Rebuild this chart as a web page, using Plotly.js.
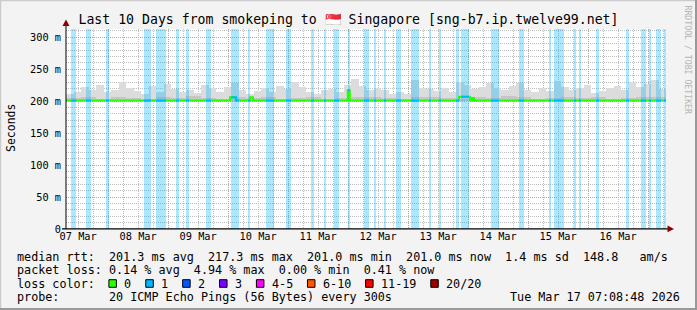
<!DOCTYPE html>
<html><head><meta charset="utf-8">
<script src="https://cdn.plot.ly/plotly-3.0.1.min.js"></script>
<style>html,body{margin:0;padding:0;background:#f3f3f3;} #chart{width:697px;height:310px;}</style>
</head><body><div id="chart"></div>
<script>
// ---------- data ----------
const rangeStart = '2026-03-07 07:08:48';
const rangeEnd = '2026-03-17 07:08:48';
const titleText = 'Last 10 Days from smokeping to 🇸🇬 Singapore [sng-b7.ip.twelve99.net]';

const smokeMin = 201.0;
const smokeStepHours = 3;
const smokeTop = [212,215,222,218,225,214,218,230,220,216,
  212,224,215,227,219,214,218,213,226,220,
  214,222,228,218,212,216,221,215,224,219,
  230,222,215,211,217,219,214,226,234,224,
  218,220,217,212,214,211,233,221,219,216,
  220,215,230,226,219,223,228,220,217,224,
  229,218,214,220,216,232,222,217,220,226,
  213,216,221,224,218,230,222,227,233,219];
const smokeMidStepHours = 6;
const smokeMid = [205,206,204,207,205,204,206,205,208,205,204,206,205,207,204,205,206,204,205,207,
  206,205,204,206,207,205,204,206,205,208,206,204,205,207,205,206,204,205,206,207];

const medianTimes = ['2026-03-07 07:08:48','2026-03-10 00:45','2026-03-10 03:09','2026-03-10 08:45',
  '2026-03-10 09:57','2026-03-11 23:51','2026-03-12 00:39','2026-03-13 20:21','2026-03-14 00:45',
  '2026-03-14 01:33','2026-03-14 02:21','2026-03-17 07:08:48'];
const medianValues = [201.0,206.0,201.0,206.0,201.0,217.3,201.0,207.0,201.0,205.0,201.0,201.0];

const lossStart = ['2026-03-07 09:09','2026-03-07 15:09','2026-03-07 23:09','2026-03-08 14:21','2026-03-08 19:09',
  '2026-03-09 03:09','2026-03-09 07:09','2026-03-09 15:09','2026-03-10 01:09','2026-03-10 07:57',
  '2026-03-10 15:09','2026-03-10 23:09','2026-03-11 09:09','2026-03-11 14:21','2026-03-11 18:21',
  '2026-03-11 23:51',
  '2026-03-12 06:21','2026-03-12 10:21','2026-03-12 14:21','2026-03-12 19:09','2026-03-13 01:09',
  '2026-03-13 08:21','2026-03-13 12:21','2026-03-13 19:09','2026-03-13 21:09','2026-03-14 09:09',
  '2026-03-14 20:21','2026-03-15 08:21','2026-03-15 10:21','2026-03-15 18:21','2026-03-15 20:21',
  '2026-03-16 03:09','2026-03-16 15:09','2026-03-16 21:09','2026-03-17 00:21','2026-03-17 03:09',
  '2026-03-17 06:21'];
const lossHours = [2,2,1.2,2.8,4, 1.2,1.2,2,3.2,0.8, 3.2,2,1.2,0.8,2, 0.8, 2,0.8,0.8,2,3.2,
  0.8,0.8,1.2,3.2,3.2, 2,0.8,4,0.8,0.8, 1.2,1.2,2,0.8,2, 0.8];
const lossLevel = lossHours.map(() => 1); // all loss periods: 1 of 20 pings lost

const lossLabels = ['0','1','2','3','4-5','6-10','11-19','20/20'];
const lossColors = ['#26ff00','#00b8ff','#0059ff','#7e00ff','#ff00ff','#ff5500','#ff0000','#a10000'];

const yTickVals = [0,50,100,150,200,250,300];
const yTickText = ['0','50 m','100 m','150 m','200 m','250 m','300 m'];

const statLines = [
  'median rtt:  201.3 ms avg  217.3 ms max  201.0 ms min  201.0 ms now  1.4 ms sd  148.8   am/s',
  'packet loss: 0.14 % avg  4.94 % max  0.00 % min  0.41 % now',
  'loss color:',
  'probe:       20 ICMP Echo Pings (56 Bytes) every 300s'
];
const dateText = 'Tue Mar 17 07:08:48 2026';
const watermark = 'RRDTOOL / TOBI OETIKER';

// ---------- helpers ----------
const MS_H = 3600000;
function toMs(s){
  const parts = s.split(' ');
  const d = parts[0].split('-').map(Number);
  const t = (parts[1] || '00:00:00').split(':').map(Number);
  return Date.UTC(d[0], d[1]-1, d[2], t[0], t[1], t[2] || 0);
}
const T0 = toMs(rangeStart), T1 = toMs(rangeEnd);
const medMs = medianTimes.map(toMs);
function medianAt(ms){
  let v = medianValues[0];
  for (let i = 0; i < medMs.length; i++) { if (medMs[i] <= ms) v = medianValues[i]; }
  return v;
}
// pixel helpers for decorations (plot area: x 66..666, y 29..229)
const PL = 66, PW = 600, PB = 229, PH = 200;
const px = x => (x - PL) / PW;
const py = y => (PB - y) / PH;
const nb = s => s.replace(/ /g, '\u00a0');
const MONO = 'DejaVu Sans Mono';

// ---------- traces ----------
const traces = [];
traces.push({
  type:'bar', x: smokeTop.map((v,i) => T0 + (i+0.5)*smokeStepHours*MS_H),
  y: smokeTop.map(v => v - smokeMin), base: smokeTop.map(() => smokeMin),
  width: smokeStepHours*MS_H, marker:{color:'#dcdcdc', line:{width:0}}, hoverinfo:'skip'
});
traces.push({
  type:'bar', x: smokeMid.map((v,i) => T0 + (i+0.5)*smokeMidStepHours*MS_H),
  y: smokeMid.map(v => v - smokeMin), base: smokeMid.map(() => smokeMin),
  width: smokeMidStepHours*MS_H, marker:{color:'#c6c6c6', line:{width:0}}, hoverinfo:'skip'
});
// loss background bands
const lossMs = lossStart.map(toMs);
traces.push({
  type:'bar', x: lossMs.map((s,i) => s + lossHours[i]*MS_H/2),
  y: lossMs.map(() => 313), base: lossMs.map(() => 0),
  width: lossHours.map(h => h*MS_H),
  marker:{color: lossLevel.map(l => lossColors[l]), opacity: 0.33, line:{width:0}}, hoverinfo:'skip'
});
// median line (loss 0 colour)
traces.push({
  type:'scatter', mode:'lines', x: medMs, y: medianValues,
  line:{shape:'hv', color: lossColors[0], width:2}, hoverinfo:'skip'
});
// median line segments coloured by loss
const segX = [], segY = [];
lossMs.forEach((s,i) => {
  const e = s + lossHours[i]*MS_H;
  segX.push(s); segY.push(medianAt(s));
  medMs.forEach(m => { if (m > s && m < e) { segX.push(m); segY.push(medianAt(m)); } });
  segX.push(e); segY.push(medianAt(e - 1));
  segX.push(null); segY.push(null);
});
traces.push({
  type:'scatter', mode:'lines', x: segX, y: segY, connectgaps:false,
  line:{shape:'hv', color: lossColors[1], width:2}, hoverinfo:'skip'
});

// ---------- decorations ----------
const rowY = [256.5, 270, 283.5, 297];
const annotations = [];
const shapes = [];
statLines.forEach((t,i) => annotations.push({
  text: nb(t), x: px(15.8), y: py(rowY[i]), xref:'paper', yref:'paper', xanchor:'left', yanchor:'middle',
  showarrow:false, borderpad:0, font:{family:MONO, size:11.76, color:'#000'}
}));
annotations.push({
  text: nb(dateText), x: px(681), y: py(rowY[3]), xref:'paper', yref:'paper', xanchor:'right', yanchor:'middle',
  showarrow:false, borderpad:0, font:{family:MONO, size:11.76, color:'#000'}
});
// loss colour legend
let bx = 108.9;
lossLabels.forEach((lab,i) => {
  shapes.push({type:'rect', xref:'paper', yref:'paper', x0:px(bx), x1:px(bx+7.5), y0:py(rowY[2]+3.8), y1:py(rowY[2]-3.8),
    fillcolor: lossColors[i], line:{color:'#000', width:1}});
  const lx = bx + 14.8;
  annotations.push({text: lab, x: px(lx-0.6), y: py(rowY[2]), xref:'paper', yref:'paper', xanchor:'left', yanchor:'middle',
    showarrow:false, borderpad:0, font:{family:MONO, size:11.76, color:'#000'}});
  bx = lx + lab.length*7.08 + 15;
});
// y axis unit
annotations.push({text:'Seconds', x: px(11), y: py(128), xref:'paper', yref:'paper', xanchor:'center', yanchor:'middle',
  textangle:-90, showarrow:false, borderpad:0, font:{family:MONO, size:11.5, color:'#000'}});
// watermark
annotations.push({text: nb(watermark), x: px(687.5), y: py(60), xref:'paper', yref:'paper', xanchor:'center', yanchor:'middle',
  textangle:90, showarrow:false, borderpad:0, font:{family:MONO, size:8.2, color:'#b4b4b4'}});

// axis extensions and arrows
shapes.push({type:'line', xref:'paper', yref:'paper', x0:px(66), x1:px(66), y0:py(229), y1:py(23), line:{color:'#000', width:1}});
shapes.push({type:'line', xref:'paper', yref:'paper', x0:px(62), x1:px(670), y0:py(228.8), y1:py(228.8), line:{color:'#000', width:1.3}});
shapes.push({type:'path', xref:'paper', yref:'paper', fillcolor:'#8b0000', line:{width:0},
  path:`M ${px(62.5)} ${py(26)} L ${px(69.5)} ${py(26)} L ${px(66)} ${py(19.5)} Z`});
shapes.push({type:'path', xref:'paper', yref:'paper', fillcolor:'#8b0000', line:{width:0},
  path:`M ${px(667.5)} ${py(225.5)} L ${px(667.5)} ${py(232.3)} L ${px(674)} ${py(228.9)} Z`});
// outer frame
shapes.push({type:'line', xref:'paper', yref:'paper', x0:px(0.5), x1:px(0.5), y0:py(0), y1:py(310), line:{color:'#cbcbcb', width:1.5}});
shapes.push({type:'line', xref:'paper', yref:'paper', x0:px(0), x1:px(697), y0:py(0.5), y1:py(0.5), line:{color:'#cbcbcb', width:1.5}});
shapes.push({type:'line', xref:'paper', yref:'paper', x0:px(696), x1:px(696), y0:py(0), y1:py(310), line:{color:'#999999', width:2}});
shapes.push({type:'line', xref:'paper', yref:'paper', x0:px(0), x1:px(697), y0:py(309), y1:py(309), line:{color:'#999999', width:2}});

const layout = {
  width:697, height:310,
  margin:{l:66, r:31, t:29, b:81, pad:0},
  paper_bgcolor:'#f3f3f3', plot_bgcolor:'#ffffff',
  barmode:'overlay', bargap:0, showlegend:false,
  font:{family:MONO, size:10.3, color:'#000'},
  title:{text: titleText, xref:'container', x:0.5, xanchor:'center', yref:'container', y:1-19/310, yanchor:'middle',
    font:{family:MONO, size:13.2, color:'#000'}},
  xaxis:{type:'date', range:[rangeStart, rangeEnd], tick0:'2026-03-07', dtick:86400000, tickformat:'%d %b',
    ticklabelmode:'period', ticks:'', showgrid:true, gridcolor:'#eb8f8f', griddash:'1px,1px', gridwidth:1,
    minor:{tick0:'2026-03-07', dtick:6*MS_H, showgrid:true, gridcolor:'#bdbdbd', griddash:'1px,1px', gridwidth:1, ticks:''},
    showline:false, zeroline:false, tickfont:{family:MONO, size:10.3, color:'#000'}, fixedrange:true},
  yaxis:{range:[0,313], tickmode:'array', tickvals:yTickVals, ticktext:yTickText, ticks:'', ticklabelstandoff:4,
    showgrid:true, gridcolor:'#eb8f8f', griddash:'1px,1px', gridwidth:1,
    minor:{tickmode:'linear', tick0:0, dtick:10, showgrid:true, gridcolor:'#bdbdbd', griddash:'1px,1px', gridwidth:1, ticks:''},
    showline:false, zeroline:false, tickfont:{family:MONO, size:10.3, color:'#000'}, fixedrange:true},
  annotations, shapes
};
Plotly.newPlot('chart', traces, layout, {staticPlot:true, displayModeBar:false});
</script></body></html>
